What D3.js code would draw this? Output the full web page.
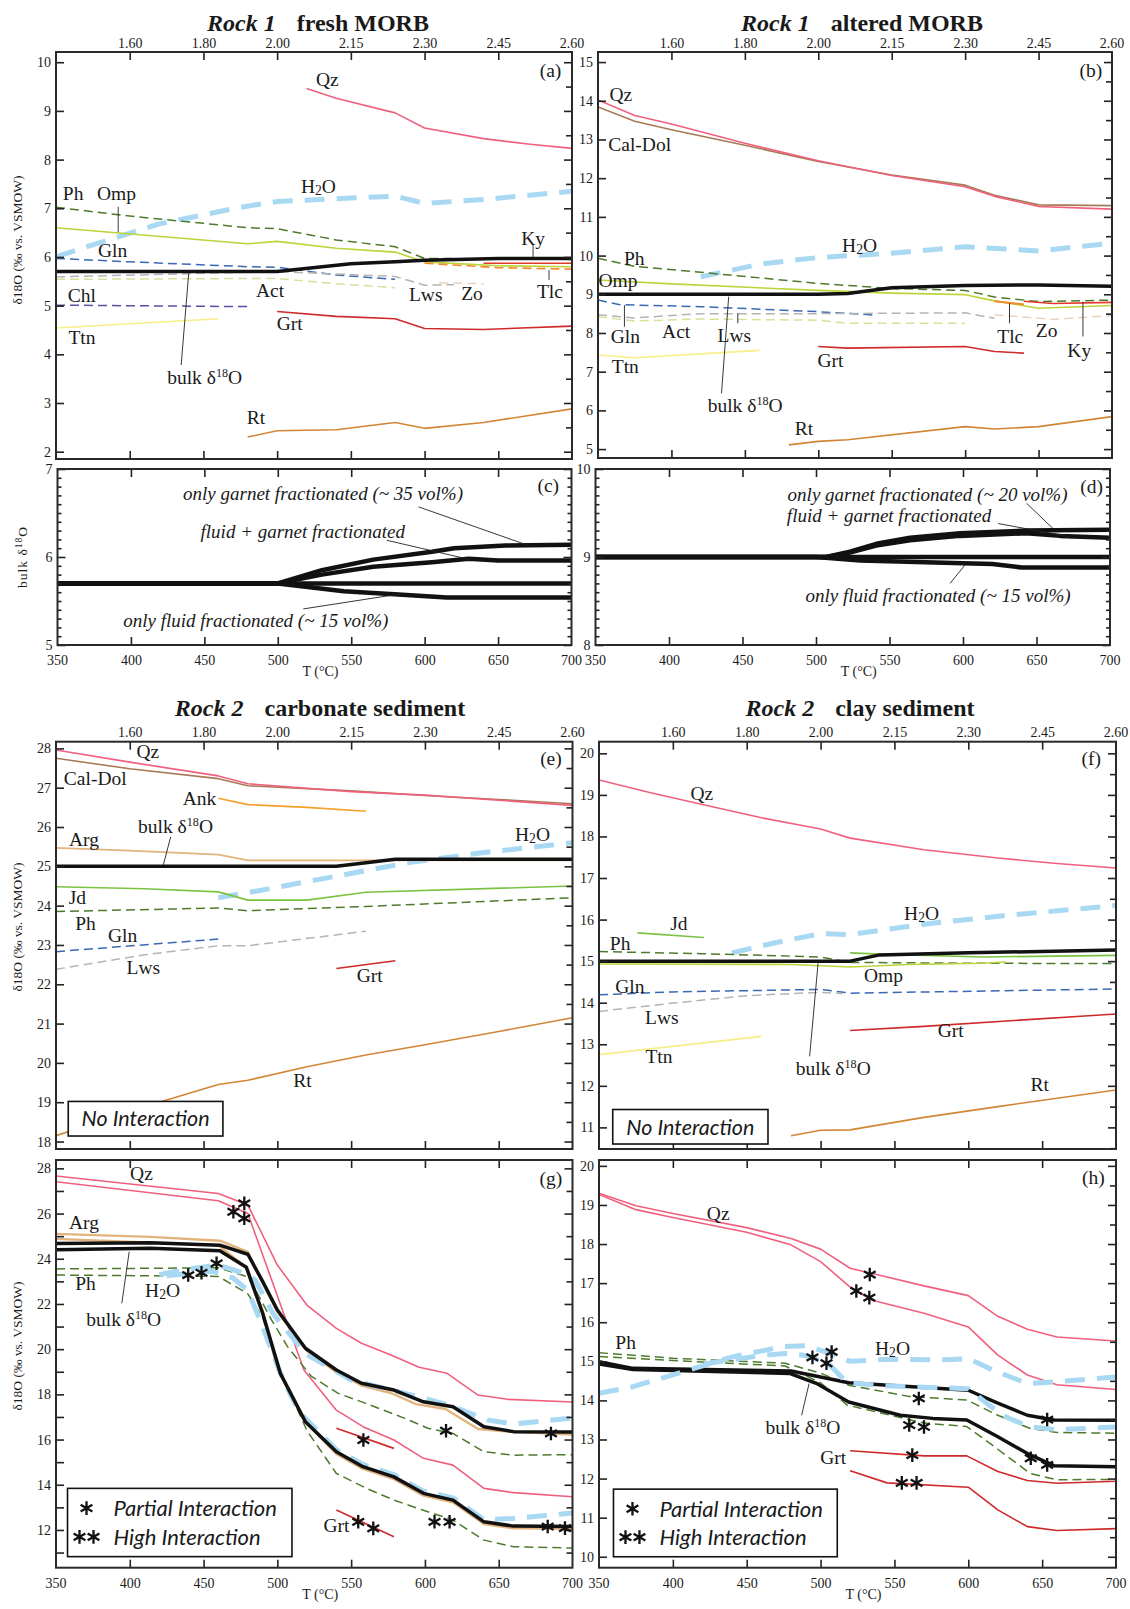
<!DOCTYPE html>
<html>
<head>
<meta charset="utf-8">
<script src="https://cdn.jsdelivr.net/npm/d3@7"></script>
<style>
  body { margin: 0; background: #fff; }
  text { font-family: "Liberation Serif", "Times New Roman", serif; fill: #1a1a1a; }
  .sans { font-family: Lato, "Open Sans", sans-serif; }
</style>
</head>
<body>
<script>
// temperature axis (bottom) and pressure axis (top)
var temps = [350, 400, 450, 500, 550, 600, 650, 700];
var pressureAt = [400, 450, 500, 550, 600, 650, 700];
var pressureLabels = ['1.60', '1.80', '2.00', '2.15', '2.30', '2.45', '2.60'];

var aYTicks = [2, 3, 4, 5, 6, 7, 8, 9, 10];
var bYTicks = [5, 6, 7, 8, 9, 10, 11, 12, 13, 14, 15];
var cYTicks = [5, 6, 7];
var dYTicks = [8, 9, 10];
var eYTicks = [18, 19, 20, 21, 22, 23, 24, 25, 26, 27, 28];
var fYTicks = [11, 12, 13, 14, 15, 16, 17, 18, 19, 20];
var gYTicks = [12, 14, 16, 18, 20, 22, 24, 26, 28];
var hYTicks = [10, 11, 12, 13, 14, 15, 16, 17, 18, 19, 20];

// ---- (a) fresh MORB
var aQz = [[520,9.46],[540,9.26],[580,8.96],[600,8.65],[640,8.43],[670,8.32],[700,8.23]];
var aH2O = [[350,6.0],[370,6.2],[420,6.68],[475,7.02],[500,7.14],[580,7.25],[600,7.1],[640,7.18],[700,7.35]];
var aPh = [[350,7.02],[400,6.84],[450,6.69],[480,6.6],[500,6.58],[540,6.35],[580,6.21],[600,5.97],[700,5.95]];
var aOmp = [[350,6.6],[480,6.27],[500,6.32],[540,6.18],[580,6.1],[600,5.9],[650,5.82],[700,5.8]];
var aGln = [[350,5.97],[400,5.9],[480,5.8],[500,5.79],[540,5.63],[580,5.54]];
var aBulk = [[350,5.7],[500,5.7],[550,5.86],[580,5.9],[600,5.93],[650,5.97],[700,5.97]];
var aLws = [[350,5.59],[500,5.7],[540,5.65],[580,5.6],[600,5.42],[620,5.43]];
var aZo = [[610,5.47],[640,5.45]];
var aAct = [[350,5.54],[500,5.56],[540,5.45],[580,5.37]];
var aChl = [[350,5.01],[480,4.98]];
var aTtn = [[350,4.54],[460,4.73]];
var aGrt = [[500,4.88],[540,4.78],[580,4.73],[600,4.53],[640,4.51],[700,4.58]];
var aRt = [[480,2.3],[500,2.43],[540,2.45],[580,2.6],[600,2.48],[640,2.6],[700,2.88]];
var aKy = [[640,5.87],[700,5.87]];
var aTlc = [[600,5.87],[650,5.78],[700,5.75]];

// ---- (b) altered MORB
var bQz = [[350,14.02],[375,13.62],[400,13.4],[450,12.9],[500,12.45],[550,12.07],[600,11.78],[620,11.53],[650,11.27],[700,11.2]];
var bCalDol = [[350,13.84],[375,13.47],[400,13.25],[450,12.85],[500,12.43],[550,12.08],[600,11.82],[620,11.56],[650,11.31],[700,11.29]];
var bH2O = [[420,9.45],[460,9.78],[500,9.95],[550,10.06],[600,10.23],[650,10.12],[700,10.32]];
var bPh = [[350,9.93],[375,9.72],[425,9.55],[500,9.28],[550,9.15],[600,9.1],[620,8.93],[650,8.81],[700,8.85]];
var bOmp = [[350,9.37],[400,9.27],[470,9.15],[500,9.1],[550,9.03],[600,8.99],[620,8.83],[650,8.64],[700,8.71]];
var bBulk = [[350,9.0],[500,9.0],[520,9.02],[550,9.17],[600,9.23],[650,9.24],[700,9.21]];
var bGln = [[350,8.85],[365,8.73],[420,8.68],[500,8.55],[540,8.46]];
var bLws = [[350,8.47],[375,8.39],[420,8.5],[500,8.5],[600,8.52],[620,8.38]];
var bAct = [[350,8.42],[375,8.31],[420,8.36],[500,8.33],[520,8.25],[600,8.25]];
var bZo = [[620,8.47],[660,8.35],[700,8.45]];
var bTlc = [[620,8.82],[640,8.74]];
var bKy = [[640,8.82],[660,8.76],[700,8.79]];
var bTtn = [[350,7.43],[375,7.36],[460,7.55]];
var bGrt = [[500,7.65],[520,7.61],[600,7.65],[620,7.52],[640,7.48]];
var bRt = [[480,5.11],[500,5.2],[520,5.24],[600,5.58],[620,5.52],[650,5.58],[700,5.84]];

// ---- (c) fresh MORB, fractionation
var cBase = [[350,5.7],[700,5.7]];
var cGarnet = [[350,5.7],[500,5.7],[530,5.85],[565,5.97],[605,6.06],[620,6.1],[655,6.13],[700,6.14]];
var cFluidGarnet = [[350,5.7],[500,5.7],[530,5.8],[565,5.89],[605,5.94],[630,5.98],[650,5.96],[700,5.96]];
var cFluid = [[350,5.7],[500,5.7],[545,5.61],[585,5.57],[615,5.54],[700,5.54]];

// ---- (d) altered MORB, fractionation
var dBase = [[350,9.0],[700,9.0]];
var dGarnet = [[350,9.0],[507,9.0],[523,9.06],[541,9.15],[564,9.22],[598,9.27],[643,9.3],[700,9.31]];
var dFluidGarnet = [[350,9.0],[507,9.0],[523,9.05],[541,9.13],[564,9.19],[598,9.24],[643,9.27],[666,9.24],[700,9.22]];
var dFluid = [[350,9.0],[500,9.0],[530,8.96],[600,8.93],[620,8.92],[640,8.88],[700,8.88]];

// ---- (e) carbonate sediment
var eQz = [[350,27.96],[400,27.65],[460,27.3],[480,27.1],[550,26.9],[600,26.81],[650,26.68],[700,26.55]];
var eCalDol = [[350,27.75],[400,27.48],[460,27.23],[480,27.05],[550,26.92],[600,26.8],[650,26.7],[700,26.59]];
var eAnk = [[460,26.73],[480,26.57],[520,26.5],[560,26.4]];
var eArg = [[350,25.47],[400,25.4],[460,25.3],[480,25.15],[700,25.15]];
var eBulk = [[350,25.0],[540,25.0],[580,25.18],[700,25.18]];
var eH2O = [[460,24.2],[490,24.4],[540,24.75],[590,25.1],[640,25.35],[700,25.6]];
var eJd = [[350,24.48],[410,24.43],[460,24.35],[480,24.14],[520,24.14],[560,24.34],[700,24.5]];
var ePh = [[350,23.85],[460,23.94],[480,23.87],[560,23.98],[700,24.2]];
var eGln = [[350,22.83],[460,23.15]];
var eLws = [[350,22.38],[410,22.75],[460,22.98],[480,22.98],[560,23.35]];
var eGrt = [[540,22.4],[580,22.6]];
var eRt = [[350,18.15],[420,19.0],[460,19.45],[480,19.56],[520,19.9],[560,20.2],[600,20.46],[650,20.8],[700,21.15]];

// ---- (f) clay sediment
var fQz = [[350,19.36],[385,19.05],[420,18.77],[460,18.45],[500,18.18],[520,17.96],[570,17.68],[620,17.48],[660,17.35],[700,17.24]];
var fH2O = [[440,15.2],[470,15.45],[500,15.66],[520,15.64],[570,15.89],[620,16.08],[700,16.34]];
var fJd = [[376,15.68],[421,15.57]];
var fPh = [[350,15.23],[420,15.18],[500,15.1],[520,14.97],[600,14.95],[700,14.94]];
var fBulk = [[350,15.0],[520,15.0],[540,15.15],[600,15.2],[700,15.27]];
var fOmp = [[350,14.93],[480,14.92],[520,14.86],[560,14.92],[610,14.95],[625,14.98]];
var fOmp2 = [[520,15.2],[540,15.17],[610,15.1],[700,15.14]];
var fGln = [[350,14.19],[400,14.26],[500,14.32],[520,14.23],[700,14.33]];
var fLws = [[350,13.79],[400,13.99],[450,14.17],[500,14.25],[515,14.22]];
var fTtn = [[350,12.75],[460,13.19]];
var fGrt = [[520,13.33],[570,13.43],[700,13.73]];
var fRt = [[480,10.8],[500,10.93],[520,10.94],[570,11.24],[620,11.5],[700,11.9]];

// ---- (g) carbonate sediment with interaction (P = partial, H = high)
var gQzP = [[350,27.66],[460,26.89],[480,26.38],[500,23.72],[520,21.95],[540,20.92],[557,20.26],[577,19.74],[596,19.2],[615,18.93],[636,17.97],[656,17.78],[700,17.66]];
var gQzH = [[350,27.41],[460,26.57],[480,26.0],[518,19.08],[540,17.3],[558,16.57],[579,15.98],[599,15.17],[619,14.87],[640,13.84],[660,13.65],[700,13.47]];
var gArgP = [[350,25.1],[414,24.97],[461,24.8],[480,24.3],[490,22.95],[500,21.65],[520,19.93],[540,18.98],[557,18.39],[577,18.06],[594,17.57],[614,17.35],[636,16.47],[656,16.35],[700,16.22]];
var gArgH = [[350,24.88],[460,24.6],[479,23.6],[490,21.7],[500,19.12],[520,16.7],[540,15.36],[558,14.7],[579,14.25],[599,13.52],[619,13.22],[640,12.26],[660,12.07],[700,12.05]];
var gBulkP = [[350,24.68],[414,24.71],[461,24.6],[480,24.2],[490,23.0],[500,21.73],[519,20.04],[540,19.08],[557,18.49],[579,18.19],[599,17.67],[619,17.45],[640,16.57],[660,16.35],[700,16.33]];
var gBulkH = [[350,24.4],[414,24.46],[461,24.35],[479,23.62],[490,21.6],[502,18.93],[519,16.79],[540,15.46],[558,14.8],[579,14.35],[599,13.62],[619,13.32],[640,12.36],[660,12.17],[700,12.15]];
var gPhP = [[350,23.55],[460,23.6],[480,23.2],[485,22.65],[496,21.3],[507,20.1],[523,18.8],[541,18.05],[560,17.6],[586,16.95],[602,16.5],[619,16.27],[640,15.46],[660,15.31],[700,15.33]];
var gPhH = [[350,23.28],[460,23.22],[480,22.45],[490,21.4],[500,19.3],[520,16.4],[540,14.5],[560,13.85],[579,13.32],[599,12.87],[619,12.44],[640,11.55],[660,11.26],[700,11.2]];
var gH2OP = [[420,23.3],[440,23.55],[460,23.72],[480,23.3],[485,23.06],[497,21.58],[519,19.8],[550,18.63],[582,18.12],[614,17.57],[625,17.3],[643,16.86],[660,16.69],[700,16.95]];
var gH2OH = [[425,23.25],[456,23.45],[470,23.15],[480,22.6],[490,21.0],[502,18.95],[509,17.98],[515,17.2],[540,15.55],[558,14.9],[579,14.45],[599,13.72],[619,13.42],[640,12.46],[660,12.51],[700,12.75]];
var gGrtP = [[540,16.5],[579,15.61]];
var gGrtH = [[540,12.88],[579,11.7]];
var gStarsP = [[477.6,26.45],[458.8,23.8],[558.3,15.98],[614.3,16.39],[685.4,16.27]];
var gStarsH = [[470.2,26.08],[477.6,25.79],[439.6,23.28],[448.6,23.38],[554.8,12.36],[565,12.07],[606.5,12.36],[616.7,12.36],[683.2,12.15],[694.9,12.08]];

// ---- (h) clay sediment with interaction
var hQzP = [[350,19.3],[375,18.98],[400,18.78],[450,18.42],[480,18.14],[500,17.87],[520,17.38],[540,17.2],[570,16.93],[600,16.68],[620,16.15],[640,15.82],[660,15.62],[700,15.52]];
var hQzH = [[350,19.27],[375,18.88],[400,18.68],[450,18.3],[480,17.98],[500,17.55],[520,16.9],[535,16.56],[570,16.23],[600,15.88],[620,15.16],[640,14.65],[660,14.4],[700,14.28]];
var hH2OP = [[350,14.18],[373,14.35],[441,15.12],[475,15.38],[490,15.4],[505,15.22],[520,15.0],[545,15.05],[585,15.04],[600,15.07],[617,14.77],[640,14.43],[660,14.48],[700,14.6]];
var hH2OH = [[421,14.93],[460,15.15],[476,15.2],[490,15.15],[505,14.95],[518,14.45],[537,14.39],[553,14.36],[600,14.3],[614,13.88],[627,13.55],[641,13.33],[660,13.25],[700,13.32]];
var hPhP = [[350,15.22],[400,15.08],[476,14.95],[500,14.7],[519,14.39],[560,14.1],[599,14.01],[620,13.62],[642,13.28],[660,13.18],[700,13.16]];
var hPhH = [[350,15.12],[400,15.02],[476,14.88],[500,14.45],[518,13.88],[570,13.42],[599,13.33],[620,12.75],[642,12.13],[660,11.97],[700,11.98]];
var hBulkP = [[350,14.99],[373,14.82],[480,14.75],[500,14.6],[519,14.45],[600,14.26],[620,13.93],[640,13.62],[658,13.5],[700,13.49]];
var hBulkH = [[350,14.93],[373,14.79],[479,14.69],[498,14.42],[519,13.96],[554,13.62],[576,13.54],[599,13.5],[620,13.07],[640,12.64],[658,12.33],[700,12.3]];
var hGrtP = [[520,12.71],[570,12.58],[599,12.58],[620,12.18],[640,11.95],[660,11.88],[700,11.93]];
var hGrtH = [[520,12.2],[545,11.89],[600,11.78],[620,11.2],[640,10.77],[660,10.67],[700,10.72]];
var hStarsP = [[533.3,17.22],[507.5,15.24],[566.5,14.05],[653.4,13.51],[562.1,12.6]];
var hStarsH = [[524.2,16.8],[533,16.63],[494.5,15.1],[504,14.95],[560,13.37],[570,13.32],[642.3,12.52],[653.4,12.35],[555,11.89],[565,11.89]];

// line styles per phase
var style = {
  Qz: { c: '#f0607e', w: 1.6 },
  CalDol: { c: '#a57a55', w: 1.6 },
  H2O: { c: '#a9d9f2', w: 5, d: '20,12' },
  Ph: { c: '#4d7a2c', w: 1.5, d: '9,5' },
  Omp: { c: '#bcd43a', w: 1.6 },
  Gln: { c: '#3b68b5', w: 1.5, d: '9,5' },
  Lws: { c: '#b4b4b4', w: 1.5, d: '9,5' },
  Act: { c: '#d5e39a', w: 1.5, d: '9,5' },
  Zo: { c: '#ebd3ba', w: 1.5, d: '9,5' },
  Chl: { c: '#5c4fa3', w: 1.5, d: '9,5' },
  Ttn: { c: '#f7ee86', w: 1.6 },
  Grt: { c: '#cf2a2a', w: 1.6 },
  Rt: { c: '#d38536', w: 1.6 },
  Ky: { c: '#e23a2a', w: 1.6 },
  Tlc: { c: '#f28a2e', w: 1.6, d: '9,5' },
  TlcS: { c: '#f28a2e', w: 1.8 },
  Jd: { c: '#7cc242', w: 1.6 },
  Arg: { c: '#e2b37c', w: 1.8 },
  ArgG: { c: '#e2b37c', w: 2.4 },
  Ank: { c: '#f5a02a', w: 1.6 },
  bulk: { c: '#111', w: 3.5 },
  frac: { c: '#111', w: 4.5 }
};

var panels = [
  { id: 'a', box: [56, 52, 572, 459], ydom: [1.85, 10.21], yt: aYTicks, minorR: 0.5, top: true, bottom: false,
    series: [['H2O', aH2O], ['Qz', aQz], ['Ph', aPh], ['Omp', aOmp], ['Gln', aGln], ['Lws', aLws], ['Zo', aZo], ['Act', aAct],
             ['Chl', aChl], ['Ttn', aTtn], ['Grt', aGrt], ['Rt', aRt], ['Tlc', aTlc], ['Ky', aKy], ['bulk', aBulk]],
    labels: [['Qz', 534, 9.66], ['H2O', 528, 7.45], ['Ph', 361.6, 7.31], ['Omp', 391, 7.31], ['Gln', 388.4, 6.13],
             ['Chl', 367.6, 5.22], ['Ttn', 367.6, 4.35], ['bulk', 450.8, 3.53], ['Act', 495.2, 5.32], ['Grt', 508.5, 4.65],
             ['Rt', 485.7, 2.71], ['Lws', 600.8, 5.24], ['Zo', 632.2, 5.25], ['Tlc', 685, 5.29], ['Ky', 673.6, 6.38], ['(a)', 685.4, 9.84]],
    leaders: [[392.2, 7.03, 392.2, 6.51], [434.9, 3.78, 440, 5.66], [684.4, 5.53, 684.4, 5.73], [673.6, 6.25, 673.6, 6.0]] },
  { id: 'b', box: [598, 52, 1112, 458], ydom: [4.77, 15.26], yt: bYTicks, minorR: 0.5, top: true, bottom: false,
    series: [['H2O', bH2O], ['CalDol', bCalDol], ['Qz', bQz], ['Ph', bPh], ['Omp', bOmp], ['Gln', bGln], ['Lws', bLws], ['Act', bAct],
             ['Zo', bZo], ['TlcS', bTlc], ['Ky', bKy], ['Ttn', bTtn], ['Grt', bGrt], ['Rt', bRt], ['bulk', bBulk]],
    labels: [['Qz', 365.6, 14.16], ['Cal-Dol', 378.4, 12.89], ['H2O', 528.1, 10.27], ['Ph', 374.7, 9.93], ['Omp', 363.6, 9.37],
             ['Gln', 368.6, 7.91], ['Act', 403.2, 8.04], ['Lws', 442.8, 7.95], ['Tlc', 630.7, 7.91], ['Zo', 655.5, 8.08],
             ['Ky', 677.7, 7.56], ['Grt', 508.3, 7.3], ['Ttn', 368.6, 7.13], ['bulk', 450.2, 6.14], ['Rt', 490.2, 5.54], ['(b)', 685.6, 14.79]],
    leaders: [[368, 8.72, 368, 8.16], [445.2, 8.51, 445.2, 8.25], [630.2, 8.77, 630.2, 8.25], [680.2, 8.81, 680.2, 7.91], [434.1, 6.44, 439, 8.94]] },
  { id: 'c', box: [57.5, 469, 571.5, 645], ydom: [5, 7], yt: cYTicks, minorBoth: 0.1, top: false, bottom: true,
    series: [['frac', cBase], ['frac', cGarnet], ['frac', cFluidGarnet], ['frac', cFluid]],
    notes: [['only garnet fractionated (~ 35 vol%)', 530.8, 6.72], ['fluid + garnet fractionated', 517, 6.29],
            ['only fluid fractionated (~ 15 vol%)', 485, 5.28]],
    labels: [['(c)', 684.2, 6.82]],
    leaders: [[595.8, 6.57, 670.8, 6.13], [574.2, 6.19, 631, 5.97], [517.4, 5.41, 583.2, 5.58]] },
  { id: 'd', box: [595.5, 469, 1110, 645], ydom: [8, 10], yt: dYTicks, minorBoth: 0.1, top: false, bottom: true,
    series: [['frac', dBase], ['frac', dGarnet], ['frac', dFluidGarnet], ['frac', dFluid]],
    notes: [['only garnet fractionated (~ 20 vol%)', 575.9, 9.71], ['fluid + garnet fractionated', 549.7, 9.47],
            ['only fluid fractionated (~ 15 vol%)', 583, 8.56]],
    labels: [['(d)', 687.5, 9.81]],
    leaders: [[643.3, 9.61, 661.4, 9.32], [624, 9.38, 672.8, 9.23], [591.2, 8.7, 601.4, 8.91]] },
  { id: 'e', box: [56, 741.7, 572.5, 1149], ydom: [17.81, 28.17], yt: eYTicks, minorR: 0.5, top: true, bottom: false,
    series: [['H2O', eH2O], ['CalDol', eCalDol], ['Qz', eQz], ['Ank', eAnk], ['Arg', eArg], ['Jd', eJd], ['Ph', ePh], ['Gln', eGln],
             ['Lws', eLws], ['Grt', eGrt], ['Rt', eRt], ['bulk', eBulk]],
    labels: [['Qz', 412.2, 27.92], ['Cal-Dol', 376.6, 27.25], ['Ank', 447.3, 26.73], ['bulk', 431, 26.01], ['Arg', 369, 25.69],
             ['H2O', 672.9, 25.82], ['Jd', 364.5, 24.21], ['Ph', 370, 23.55], ['Gln', 395.1, 23.25], ['Lws', 409.2, 22.43],
             ['Grt', 562.6, 22.22], ['Rt', 517, 19.57], ['(e)', 685.4, 27.75]],
    leaders: [[427.7, 25.75, 422.7, 25.03]],
    box2: [358.3, 463.1, 19.02, 18.14, 'No Interaction'] },
  { id: 'f', box: [599, 741.7, 1116, 1149], ydom: [10.48, 20.28], yt: fYTicks, minorR: 0.5, top: true, bottom: false,
    series: [['H2O', fH2O], ['Qz', fQz], ['Jd', fJd], ['Ph', fPh], ['Omp', fOmp], ['Jd', fOmp2], ['Gln', fGln], ['Lws', fLws],
             ['Ttn', fTtn], ['Grt', fGrt], ['Rt', fRt], ['bulk', fBulk]],
    labels: [['Qz', 419.6, 19.04], ['H2O', 568.4, 16.15], ['Jd', 404.1, 15.91], ['Ph', 364.3, 15.43], ['Omp', 542.6, 14.67],
             ['Gln', 370.9, 14.39], ['Lws', 392.5, 13.65], ['Grt', 588.1, 13.35], ['Ttn', 390.6, 12.72], ['bulk', 508.6, 12.43],
             ['Rt', 648.3, 12.03], ['(f)', 683.3, 19.88]],
    leaders: [[492.6, 12.71, 498.3, 14.95]],
    box2: [359.3, 464.4, 11.43, 10.6, 'No Interaction'] },
  { id: 'g', box: [56, 1160, 572.5, 1567.7], ydom: [10.33, 28.37], yt: gYTicks, minorBoth: 1, top: false, bottom: true,
    series: [['Qz', gQzP], ['Qz', gQzH], ['Ph', gPhP], ['Ph', gPhH], ['ArgG', gArgP], ['ArgG', gArgH], ['H2O', gH2OP], ['H2O', gH2OH],
             ['bulk', gBulkP], ['bulk', gBulkH], ['Grt', gGrtP], ['Grt', gGrtH]],
    labels: [['Qz', 407.9, 27.78], ['Arg', 369, 25.64], ['Ph', 370, 22.91], ['H2O', 422.2, 22.59], ['bulk', 395.9, 21.32],
             ['Grt', 540, 12.22], ['(g)', 685.4, 27.56]],
    leaders: [[394.6, 22.03, 399.6, 24.31]],
    stars: [gStarsP, gStarsH],
    legend: [357.8, 509.9, 13.84, 10.82] },
  { id: 'h', box: [599, 1160, 1116, 1567.7], ydom: [9.72, 20.15], yt: hYTicks, minorR: 0.5, top: false, bottom: true,
    series: [['Qz', hQzP], ['Qz', hQzH], ['Ph', hPhP], ['Ph', hPhH], ['bulk', hBulkP], ['bulk', hBulkH],
             ['Grt', hGrtP], ['Grt', hGrtH], ['H2O', hH2OP], ['H2O', hH2OH]],
    labels: [['Qz', 430.7, 18.8], ['Ph', 368, 15.5], ['H2O', 548.7, 15.33], ['bulk', 488, 13.31], ['Grt', 508.6, 12.54], ['(h)', 684.7, 19.7]],
    leaders: [[487.2, 13.62, 492.2, 14.43]],
    stars: [hStarsP, hStarsH],
    legend: [359.8, 511.3, 11.73, 10.0] }
];

var svg = d3.select('body').append('svg')
  .attr('width', 1130)
  .attr('height', 1609);
svg.append('rect').attr('width', 1130).attr('height', 1609).attr('fill', '#fff');

var starShape = d3.symbolAsterisk || {
  draw: function(ctx, size) {
    var r = Math.sqrt(size) * 0.6, t = r / 2, u = t * Math.sqrt(3);
    ctx.moveTo(0, r); ctx.lineTo(0, -r);
    ctx.moveTo(-u, -t); ctx.lineTo(u, t);
    ctx.moveTo(-u, t); ctx.lineTo(u, -t);
  }
};
var star = d3.symbol().type(starShape).size(130);

function addLabel(g, px, py, txt, size) {
  var t = g.append('text')
    .attr('x', px).attr('y', py)
    .attr('dy', '0.35em')
    .attr('text-anchor', 'middle')
    .attr('font-size', size || 19);
  if (txt === 'H2O') {
    t.text('H');
    t.append('tspan').attr('font-size', '70%').attr('dy', 2).text('2');
    t.append('tspan').attr('dy', -2).text('O');
  } else if (txt === 'bulk') {
    t.text('bulk δ');
    t.append('tspan').attr('font-size', '62%').attr('dy', -7).text('18');
    t.append('tspan').attr('dy', 7).text('O');
  } else {
    t.text(txt);
  }
  return t;
}

function drawStars(g, pts, x, y) {
  g.selectAll(null).data(pts).enter().append('path')
    .attr('d', star)
    .attr('transform', function(d) { return 'translate(' + x(d[0]) + ',' + y(d[1]) + ')'; })
    .attr('fill', 'none')
    .attr('stroke', '#111')
    .attr('stroke-width', 2.3);
}

panels.forEach(function(p) {
  var x0 = p.box[0], y0 = p.box[1], x1 = p.box[2], y1 = p.box[3];
  var x = d3.scaleLinear().domain([350, 700]).range([x0, x1]);
  var y = d3.scaleLinear().domain(p.ydom).range([y1, y0]);
  var g = svg.append('g').attr('class', 'panel-' + p.id);

  var clipId = 'clip-' + p.id;
  g.append('clipPath').attr('id', clipId)
    .append('rect').attr('x', x0).attr('y', y0).attr('width', x1 - x0).attr('height', y1 - y0);

  var line = d3.line()
    .x(function(d) { return x(d[0]); })
    .y(function(d) { return y(d[1]); });

  var plot = g.append('g').attr('clip-path', 'url(#' + clipId + ')');
  p.series.forEach(function(s) {
    var st = style[s[0]];
    plot.append('path')
      .attr('d', line(s[1]))
      .attr('fill', 'none')
      .attr('stroke', st.c)
      .attr('stroke-width', st.w)
      .attr('stroke-dasharray', st.d || null)
      .attr('stroke-linejoin', 'round');
  });

  // y axis ticks
  var major = p.yt;
  var leftAx = d3.axisLeft(y).tickValues(major).tickSize(-8).tickPadding(5).tickSizeOuter(0)
    .tickFormat(d3.format('d'));
  g.append('g').attr('transform', 'translate(' + x0 + ',0)').call(leftAx);
  g.append('g').attr('transform', 'translate(' + x1 + ',0)')
    .call(d3.axisRight(y).tickValues(major).tickSize(-8).tickFormat('').tickSizeOuter(0));
  var step = p.minorR || p.minorBoth;
  var minor = d3.range(Math.ceil(p.ydom[0] / step) * step, p.ydom[1] + 1e-9, step)
    .map(function(v) { return Math.round(v * 1000) / 1000; })
    .filter(function(v) { return major.indexOf(v) < 0; });
  g.append('g').attr('transform', 'translate(' + x1 + ',0)')
    .call(d3.axisRight(y).tickValues(minor).tickSize(p.minorBoth === 0.1 ? -4 : -6).tickFormat('').tickSizeOuter(0));
  if (p.minorBoth) {
    g.append('g').attr('transform', 'translate(' + x0 + ',0)')
      .call(d3.axisLeft(y).tickValues(minor).tickSize(p.minorBoth === 0.1 ? -4 : -8).tickFormat('').tickSizeOuter(0));
  }

  // top (pressure) axis
  var topAx = d3.axisTop(x).tickValues(pressureAt.slice(0, 6)).tickSize(-8).tickSizeOuter(0).tickPadding(4.5)
    .tickFormat(function(d, i) { return p.top ? pressureLabels[i] : ''; });
  g.append('g').attr('transform', 'translate(0,' + y0 + ')').call(topAx);
  if (p.top) {
    g.append('text').attr('x', x1).attr('y', y0 - 4.5).attr('text-anchor', 'middle')
      .attr('font-size', 14).text(pressureLabels[6]);
  }

  // bottom (temperature) axis
  var botAx = d3.axisBottom(x).tickValues(temps.slice(1, 7)).tickSize(-8).tickSizeOuter(0).tickPadding(10.5)
    .tickFormat(p.bottom ? d3.format('d') : '');
  g.append('g').attr('transform', 'translate(0,' + y1 + ')').call(botAx);
  if (p.bottom) {
    [350, 700].forEach(function(t) {
      g.append('text').attr('x', x(t)).attr('y', y1 + 10.5).attr('dy', '0.71em').attr('text-anchor', 'middle')
        .attr('font-size', 14).text(t);
    });
    g.append('text').attr('x', (x0 + x1) / 2 + 6).attr('y', y1 + 31).attr('text-anchor', 'middle')
      .attr('font-size', 14).text('T (°C)');
  }

  g.selectAll('.domain').remove();
  g.selectAll('.tick line').attr('stroke', '#222').attr('stroke-width', 1.6);
  g.selectAll('.tick text').attr('font-size', 14)
    .style('font-family', '"Liberation Serif", serif').attr('fill', '#1a1a1a');

  // frame
  g.append('rect').attr('x', x0).attr('y', y0).attr('width', x1 - x0).attr('height', y1 - y0)
    .attr('fill', 'none').attr('stroke', '#2a2a2a').attr('stroke-width', 2);

  // leader lines
  (p.leaders || []).forEach(function(l) {
    g.append('line')
      .attr('x1', x(l[0])).attr('y1', y(l[1]))
      .attr('x2', x(l[2])).attr('y2', y(l[3]))
      .attr('stroke', '#222').attr('stroke-width', 0.9);
  });

  (p.labels || []).forEach(function(l) {
    addLabel(g, x(l[1]), y(l[2]), l[0], 19.5);
  });

  (p.notes || []).forEach(function(n) {
    g.append('text').attr('x', x(n[1])).attr('y', y(n[2])).attr('dy', '0.35em')
      .attr('text-anchor', 'middle').attr('font-size', 19).attr('font-style', 'italic').text(n[0]);
  });

  if (p.box2) {
    var b = p.box2;
    g.append('rect').attr('x', x(b[0])).attr('y', y(b[2]))
      .attr('width', x(b[1]) - x(b[0])).attr('height', y(b[3]) - y(b[2]))
      .attr('fill', '#fff').attr('stroke', '#111').attr('stroke-width', 1.6);
    g.append('text').attr('class', 'sans')
      .attr('x', (x(b[0]) + x(b[1])) / 2).attr('y', (y(b[2]) + y(b[3])) / 2).attr('dy', '0.36em')
      .attr('text-anchor', 'middle').attr('font-size', 21.5).attr('font-style', 'italic').text(b[4]);
  }

  if (p.stars) {
    drawStars(g, p.stars[0], x, y);
    drawStars(g, p.stars[1], x, y);
  }

  if (p.legend) {
    var L = p.legend;
    var lx0 = x(L[0]), lx1 = x(L[1]), ly0 = y(L[2]), ly1 = y(L[3]);
    g.append('rect').attr('x', lx0).attr('y', ly0).attr('width', lx1 - lx0).attr('height', ly1 - ly0)
      .attr('fill', '#fff').attr('stroke', '#111').attr('stroke-width', 1.6);
    var r1 = ly0 + (ly1 - ly0) * 0.29, r2 = ly0 + (ly1 - ly0) * 0.71;
    var sx = lx0 + 19;
    var lg = g.append('g');
    lg.append('path').attr('d', star).attr('transform', 'translate(' + sx + ',' + r1 + ')')
      .attr('fill', 'none').attr('stroke', '#111').attr('stroke-width', 2.3);
    lg.append('path').attr('d', star).attr('transform', 'translate(' + (sx - 7) + ',' + r2 + ')')
      .attr('fill', 'none').attr('stroke', '#111').attr('stroke-width', 2.3);
    lg.append('path').attr('d', star).attr('transform', 'translate(' + (sx + 7) + ',' + r2 + ')')
      .attr('fill', 'none').attr('stroke', '#111').attr('stroke-width', 2.3);
    lg.append('text').attr('class', 'sans').attr('x', lx0 + 46).attr('y', r1).attr('dy', '0.36em')
      .attr('font-size', 22).attr('font-style', 'italic').text('Partial Interaction');
    lg.append('text').attr('class', 'sans').attr('x', lx0 + 46).attr('y', r2).attr('dy', '0.36em')
      .attr('font-size', 22).attr('font-style', 'italic').text('High Interaction');
  }
});

// panel titles
var titles = [
  { x: 318, y: 31, rock: 'Rock 1', name: 'fresh MORB' },
  { x: 862, y: 31, rock: 'Rock 1', name: 'altered MORB' },
  { x: 320, y: 716, rock: 'Rock 2', name: 'carbonate sediment' },
  { x: 860, y: 716, rock: 'Rock 2', name: 'clay sediment' }
];
titles.forEach(function(t) {
  var tx = svg.append('text').attr('x', t.x).attr('y', t.y).attr('text-anchor', 'middle')
    .attr('font-size', 24).attr('font-weight', 'bold');
  tx.append('tspan').attr('font-style', 'italic').text(t.rock);
  tx.append('tspan').attr('dx', 21).text(t.name);
});

// y axis titles
[[17, 240], [17, 927], [17, 1346]].forEach(function(c) {
  svg.append('text').attr('transform', 'translate(' + c[0] + ',' + c[1] + ') rotate(-90)')
    .attr('text-anchor', 'middle').attr('dy', '0.35em').attr('font-size', 13.5)
    .text('δ18O (‰ vs. VSMOW)');
});
var bt = svg.append('text').attr('transform', 'translate(22,557) rotate(-90)')
  .attr('text-anchor', 'middle').attr('dy', '0.35em').attr('font-size', 13.5).attr('letter-spacing', 1);
bt.text('bulk δ');
bt.append('tspan').attr('font-size', '70%').attr('dy', -5).text('18');
bt.append('tspan').attr('dy', 5).text('O');
</script>
</body>
</html>
